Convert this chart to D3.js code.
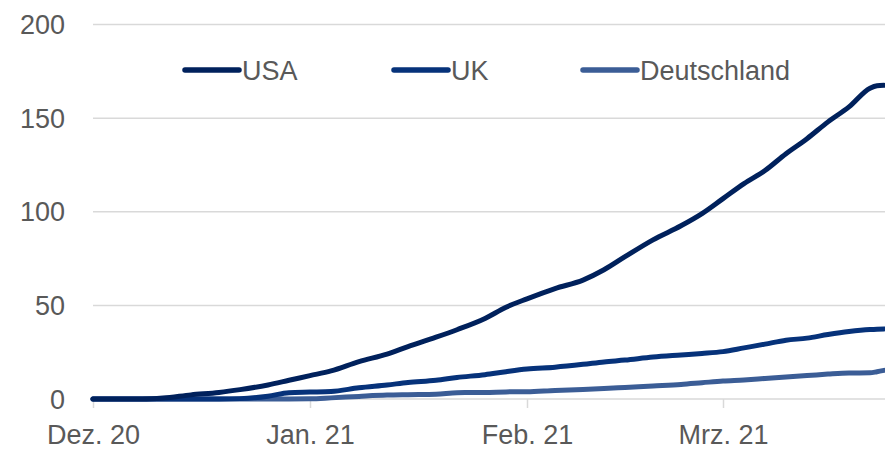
<!DOCTYPE html>
<html>
<head>
<meta charset="utf-8">
<script src="https://cdn.jsdelivr.net/npm/d3@7"></script>
<style>
  html, body { margin: 0; padding: 0; background: #ffffff; }
  svg { display: block; }
  text { font-family: "Liberation Sans", Arial, sans-serif; fill: #595959; }
</style>
</head>
<body>
<svg id="chart" width="885" height="453"></svg>
<script>
// Cumulative vaccine doses (millions) by date
const dates = [
  "2020-12-01", "2020-12-08", "2020-12-11", "2020-12-15", "2020-12-19",
  "2020-12-22", "2020-12-26", "2020-12-29", "2021-01-01", "2021-01-04",
  "2021-01-08", "2021-01-12", "2021-01-15", "2021-01-19", "2021-01-22",
  "2021-01-26", "2021-01-29", "2021-02-01", "2021-02-05", "2021-02-09",
  "2021-02-12", "2021-02-15", "2021-02-19", "2021-02-23", "2021-02-26",
  "2021-03-01", "2021-03-04", "2021-03-07", "2021-03-10", "2021-03-13",
  "2021-03-16", "2021-03-19", "2021-03-22", "2021-03-23", "2021-03-24"
];
const usa = [
  0, 0, 0.5, 2.2, 3.5,
  5, 7.5, 10, 12.5, 15,
  20, 24, 28, 33, 37,
  43, 49, 53.5, 59, 63.5,
  69, 76, 85, 92.5, 99,
  107, 115, 122, 131, 139,
  148, 156, 166, 167.3, 167.5
];
const uk = [
  0, 0, 0, 0, 0,
  0.2, 1.5, 3.4, 3.7, 4,
  6, 7.5, 8.8, 10, 11.5,
  13, 14.6, 16, 17, 18.5,
  19.8, 20.8, 22.4, 23.5, 24.3,
  25.3, 27.3, 29.3, 31.4, 32.5,
  34.4, 36, 37.1, 37.3, 37.4
];
const deutschland = [
  0, 0, 0, 0, 0,
  0, 0, 0, 0.1, 0.6,
  1.4, 2.1, 2.3, 2.5, 3.4,
  3.5, 3.8, 3.9, 4.6, 5.1,
  5.6, 6.2, 7, 7.8, 8.7,
  9.6, 10.2, 11, 11.8, 12.5,
  13.3, 13.9, 14, 14.6, 15.3
];
const seriesNames = ["USA", "UK", "Deutschland"];
const seriesColors = ["#00215c", "#06327a", "#3b5d96"];
const yTicks = [0, 50, 100, 150, 200];
const monthTicks = ["2020-12-01", "2021-01-01", "2021-02-01", "2021-03-01"];
const monthLabels = ["Dez. 20", "Jan. 21", "Feb. 21", "Mrz. 21"];

const parse = d3.timeParse("%Y-%m-%d");
const xDates = dates.map(parse);
const seriesValues = [usa, uk, deutschland];

const svg = d3.select("#chart");
const plot = { left: 93, right: 884, top: 24.5, bottom: 399 };

const x = d3.scaleTime()
  .domain([xDates[0], xDates[xDates.length - 1]])
  .range([plot.left, plot.right]);
const y = d3.scaleLinear()
  .domain([0, 200])
  .range([plot.bottom, plot.top]);

// horizontal gridlines
svg.append("g")
  .selectAll("line")
  .data(yTicks)
  .join("line")
  .attr("x1", plot.left)
  .attr("x2", 885)
  .attr("y1", d => y(d))
  .attr("y2", d => y(d))
  .attr("stroke", "#d9d9d9")
  .attr("stroke-width", 1.5);

// y axis labels
svg.append("g")
  .selectAll("text")
  .data(yTicks)
  .join("text")
  .attr("x", 65)
  .attr("y", d => y(d))
  .attr("dy", "0.36em")
  .attr("text-anchor", "end")
  .attr("font-size", 27)
  .text(d => d);

// x axis ticks and labels
const xAxis = d3.axisBottom(x)
  .tickValues(monthTicks.map(parse))
  .tickFormat((d, i) => monthLabels[i])
  .tickSize(9)
  .tickPadding(17);
const gx = svg.append("g")
  .attr("transform", `translate(0,${plot.bottom})`)
  .call(xAxis);
gx.select(".domain").remove();
gx.selectAll(".tick line").attr("stroke", "#d9d9d9").attr("stroke-width", 1.5);
gx.selectAll(".tick text")
  .attr("font-size", 27)
  .attr("font-family", "Liberation Sans, Arial, sans-serif")
  .attr("fill", "#595959");

// series lines (drawn back to front)
const line = d3.line()
  .x((d, i) => x(xDates[i]))
  .y(d => y(d))
  .curve(d3.curveMonotoneX);

[2, 1, 0].forEach(k => {
  svg.append("path")
    .datum(seriesValues[k])
    .attr("fill", "none")
    .attr("stroke", seriesColors[k])
    .attr("stroke-width", 5)
    .attr("stroke-linejoin", "round")
    .attr("stroke-linecap", "round")
    .attr("d", line);
});

// legend
const legendX = [185, 394, 583];
const lg = svg.append("g").selectAll("g")
  .data(seriesNames)
  .join("g")
  .attr("transform", (d, i) => `translate(${legendX[i]},70)`);
lg.append("line")
  .attr("x1", 0).attr("x2", 54)
  .attr("y1", 0).attr("y2", 0)
  .attr("stroke", (d, i) => seriesColors[i])
  .attr("stroke-width", 5.5)
  .attr("stroke-linecap", "round");
lg.append("text")
  .attr("x", 57)
  .attr("y", 0)
  .attr("dy", "0.36em")
  .attr("font-size", 27)
  .text(d => d);
</script>
</body>
</html>
